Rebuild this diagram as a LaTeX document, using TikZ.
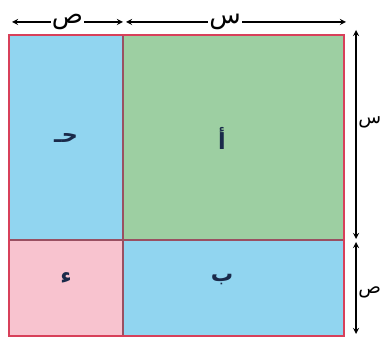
\documentclass[tikz,border=0pt]{standalone}
\usepackage{fontspec}
\newfontfamily\arabicfont[Script=Arabic]{DejaVu Sans}
\TeXXeTstate=1
\usepackage{tikz}
\usetikzlibrary{arrows}

\definecolor{skyblue}{HTML}{91D5F0}
\definecolor{leafgreen}{HTML}{9DCFA2}
\definecolor{rosepink}{HTML}{F8C3CF}
\definecolor{edgered}{HTML}{D8405A}
\definecolor{innerline}{HTML}{9A5062}
\definecolor{inknavy}{HTML}{1A2A4A}

\begin{document}
\begin{tikzpicture}[x=0.03cm, y=-0.03cm,
    part/.style = {font=\arabicfont\bfseries\fontsize{19}{22}\selectfont, text=inknavy},
    dim/.style = {stealth-stealth, line width=1.3pt},
    dimtext/.style = {font=\arabicfont\fontsize{22}{24}\selectfont, fill=white, inner sep=1pt}]
    \useasboundingbox (0,0) rectangle (382,339);
    % corners and cuts of the square
    \coordinate (nw) at (9,35);
    \coordinate (se) at (344,336);
    \coordinate (cut) at (123,240);
    % the four parts
    \fill[skyblue] (nw) rectangle (cut);
    \fill[leafgreen] (123,35) rectangle (344,240);
    \fill[rosepink] (9,240) rectangle (123,336);
    \fill[skyblue] (cut) rectangle (se);
    \draw[innerline, line width=1.2pt] (123,35) -- (123,336);
    \draw[innerline, line width=1.2pt] (9,240) -- (344,240);
    \draw[edgered, line width=1.2pt] (nw) rectangle (se);
    \node[part] (jim) at (66,138) {\beginR حـ\endR};
    \node[part] (alif) at (222,138) {\beginR أ\endR};
    \node[part] (dal) at (66,278) {\beginR ء\endR};
    \node[part] (ba) at (222,280) {\beginR ب\endR};
    % lengths along the top
    \coordinate (t1) at (12,22);
    \coordinate (t2) at (123,22);
    \coordinate (t3) at (126,22);
    \coordinate (t4) at (346,22);
    \draw[dim] (t1) -- node[dimtext] (ytop) {\beginR ص\endR} (t2);
    \draw[dim] (t3) -- node[dimtext, pos=0.45] (xtop) {\beginR س\endR} (t4);
    % lengths along the right side
    \coordinate (r1) at (356,30);
    \coordinate (r2) at (356,239);
    \coordinate (r3) at (356,242);
    \coordinate (r4) at (356,334);
    \draw[dim] (r1) -- (r2);
    \draw[dim] (r3) -- (r4);
    \node[dimtext, font=\arabicfont\fontsize{16}{18}\selectfont, anchor=west] (xside) at (357,122) {\beginR س\endR};
    \node[dimtext, font=\arabicfont\fontsize{16}{18}\selectfont, anchor=west] (yside) at (357,292) {\beginR ص\endR};
\end{tikzpicture}
\end{document}
